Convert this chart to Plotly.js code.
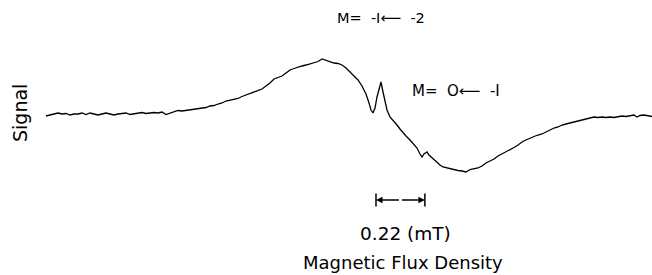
<!DOCTYPE html>
<html>
<head>
<meta charset="utf-8">
<script src="https://cdn.plot.ly/plotly-3.0.1.min.js"></script>
<style>html,body{margin:0;padding:0;background:#fff;}#chart{width:652px;height:275px;}</style>
</head>
<body>
<div id="chart"></div>
<script>
// Magnetic flux density (mT, relative to start of sweep)
const field = [0,0.018,0.036,0.054,0.072,0.09,0.108,0.126,0.144,0.162,0.18,0.198,0.216,0.234,0.252,0.27,0.288,0.306,0.324,0.342,0.36,0.378,0.396,0.414,0.432,0.45,0.468,0.486,0.504,0.522,0.54,0.558,0.576,0.594,0.612,0.63,0.648,0.666,0.684,0.702,0.72,0.738,0.756,0.774,0.792,0.81,0.828,0.846,0.864,0.882,0.9,0.918,0.936,0.954,0.972,0.99,1.008,1.026,1.044,1.062,1.08,1.098,1.116,1.134,1.152,1.17,1.188,1.206,1.224,1.242,1.26,1.278,1.296,1.314,1.332,1.35,1.368,1.386,1.404,1.422,1.44,1.4535,1.4625,1.4715,1.4805,1.4895,1.4985,1.5075,1.5165,1.5255,1.5345,1.548,1.566,1.5795,1.593,1.6065,1.62,1.638,1.656,1.6695,1.683,1.692,1.701,1.7145,1.7235,1.7325,1.746,1.7595,1.773,1.7865,1.8045,1.818,1.836,1.854,1.872,1.89,1.908,1.926,1.944,1.962,1.98,1.998,2.016,2.034,2.052,2.07,2.088,2.106,2.124,2.142,2.16,2.178,2.196,2.214,2.232,2.25,2.268,2.286,2.304,2.322,2.34,2.358,2.376,2.394,2.412,2.43,2.448,2.466,2.484,2.502,2.52,2.538,2.556,2.574,2.592,2.61,2.628,2.646,2.6595,2.673,2.691,2.709,2.727];
// EPR signal (arbitrary units)
const signal = [-0.1,0,0.1,0.2,0.1,0.15,0,0.1,0.1,0.2,0.05,0.2,0.1,0,0.1,0.2,0.1,0,0.1,0.15,0.2,0.05,0.1,0.2,0.25,0.15,0.2,0.25,0.2,0.3,0.05,0.2,0.3,0.45,0.4,0.45,0.5,0.6,0.65,0.7,0.75,0.9,0.95,1.1,1.2,1.4,1.5,1.6,1.65,1.85,2.0,2.15,2.35,2.45,2.6,2.9,3.2,3.6,3.75,3.9,4.2,4.5,4.65,4.8,4.9,5.0,5.1,5.25,5.35,5.6,5.45,5.3,5.2,5.15,5.0,4.7,4.3,3.9,3.5,2.9,2.1,1.2,0.5,0.2,0.7,1.8,2.7,3.3,2.3,1.2,0.5,-0.2,-0.6,-1.0,-1.4,-1.8,-2.1,-2.5,-3.0,-3.3,-3.9,-4.2,-3.9,-3.7,-4.0,-4.2,-4.5,-4.8,-5.0,-5.2,-5.3,-5.4,-5.5,-5.55,-5.6,-5.7,-5.45,-5.4,-5.3,-5.1,-4.8,-4.6,-4.4,-4.1,-3.9,-3.7,-3.5,-3.25,-3.0,-2.7,-2.5,-2.3,-2.15,-2.0,-1.9,-1.7,-1.5,-1.3,-1.2,-1.0,-0.9,-0.8,-0.7,-0.6,-0.45,-0.35,-0.25,-0.2,-0.25,-0.2,-0.25,-0.2,-0.25,-0.15,-0.1,-0.15,-0.05,0,-0.2,-0.05,0,-0.1,-0.15];

const xTitle = "Magnetic Flux Density";
const yTitle = "Signal";
const label1 = "M=\u00a0 -I\u27f5\u00a0 -2";
const label2 = "M=\u00a0 O\u27f5\u00a0 -I";
const scaleText = "0.22 (mT)";
const scaleStart = 1.485;   // mT
const scaleWidth = 0.22;    // mT
const scaleLevel = -8.5;    // signal units
const tickHalf = 0.65;

const FONT = "DejaVu Sans, Liberation Sans, Arial, sans-serif";
const W = 652, H = 275;
const px = v => v / W;
const py = v => 1 - v / H;

const trace = {
  x: field, y: signal, type: 'scatter', mode: 'lines',
  line: {color: '#000', width: 1.3}, hoverinfo: 'skip', showlegend: false
};

const mid = scaleStart + scaleWidth / 2;
const layout = {
  width: W, height: H,
  margin: {l: 0, r: 0, t: 0, b: 0},
  paper_bgcolor: '#fff', plot_bgcolor: '#fff',
  font: {family: FONT, color: '#000'},
  showlegend: false,
  xaxis: {range: [-0.207, 2.727], visible: false, fixedrange: true},
  yaxis: {range: [-16, 11.5], visible: false, fixedrange: true},
  shapes: [
    {type: 'line', xref: 'x', yref: 'y', x0: scaleStart, x1: scaleStart, y0: scaleLevel - tickHalf, y1: scaleLevel + tickHalf, line: {color: '#000', width: 1.5}},
    {type: 'line', xref: 'x', yref: 'y', x0: scaleStart + scaleWidth, x1: scaleStart + scaleWidth, y0: scaleLevel - tickHalf, y1: scaleLevel + tickHalf, line: {color: '#000', width: 1.5}}
  ],
  annotations: [
    {x: scaleStart, y: scaleLevel, ax: mid, ay: scaleLevel, xref: 'x', yref: 'y', axref: 'x', ayref: 'y', text: '', showarrow: true, arrowhead: 2, arrowsize: 1, arrowwidth: 1.3, arrowcolor: '#000', standoff: 0, startstandoff: 0},
    {x: scaleStart + scaleWidth, y: scaleLevel, ax: mid, ay: scaleLevel, xref: 'x', yref: 'y', axref: 'x', ayref: 'y', text: '', showarrow: true, arrowhead: 2, arrowsize: 1, arrowwidth: 1.3, arrowcolor: '#000', standoff: 0, startstandoff: 0},
    {x: px(405), y: py(233), xref: 'paper', yref: 'paper', text: scaleText, showarrow: false, xanchor: 'center', yanchor: 'middle', font: {size: 18.5, family: FONT, color: '#000'}},
    {x: px(403), y: py(262), xref: 'paper', yref: 'paper', text: xTitle, showarrow: false, xanchor: 'center', yanchor: 'middle', font: {size: 18, family: FONT, color: '#000'}},
    {x: px(20), y: py(113), xref: 'paper', yref: 'paper', text: yTitle, textangle: -90, showarrow: false, xanchor: 'center', yanchor: 'middle', font: {size: 19, family: FONT, color: '#000'}},
    {x: px(381), y: py(18), xref: 'paper', yref: 'paper', text: label1, showarrow: false, xanchor: 'center', yanchor: 'middle', font: {size: 14.5, family: FONT, color: '#000'}},
    {x: px(456), y: py(91), xref: 'paper', yref: 'paper', text: label2, showarrow: false, xanchor: 'center', yanchor: 'middle', font: {size: 15, family: FONT, color: '#000'}}
  ]
};

Plotly.newPlot('chart', [trace], layout, {displayModeBar: false, staticPlot: true});
</script>
</body>
</html>
